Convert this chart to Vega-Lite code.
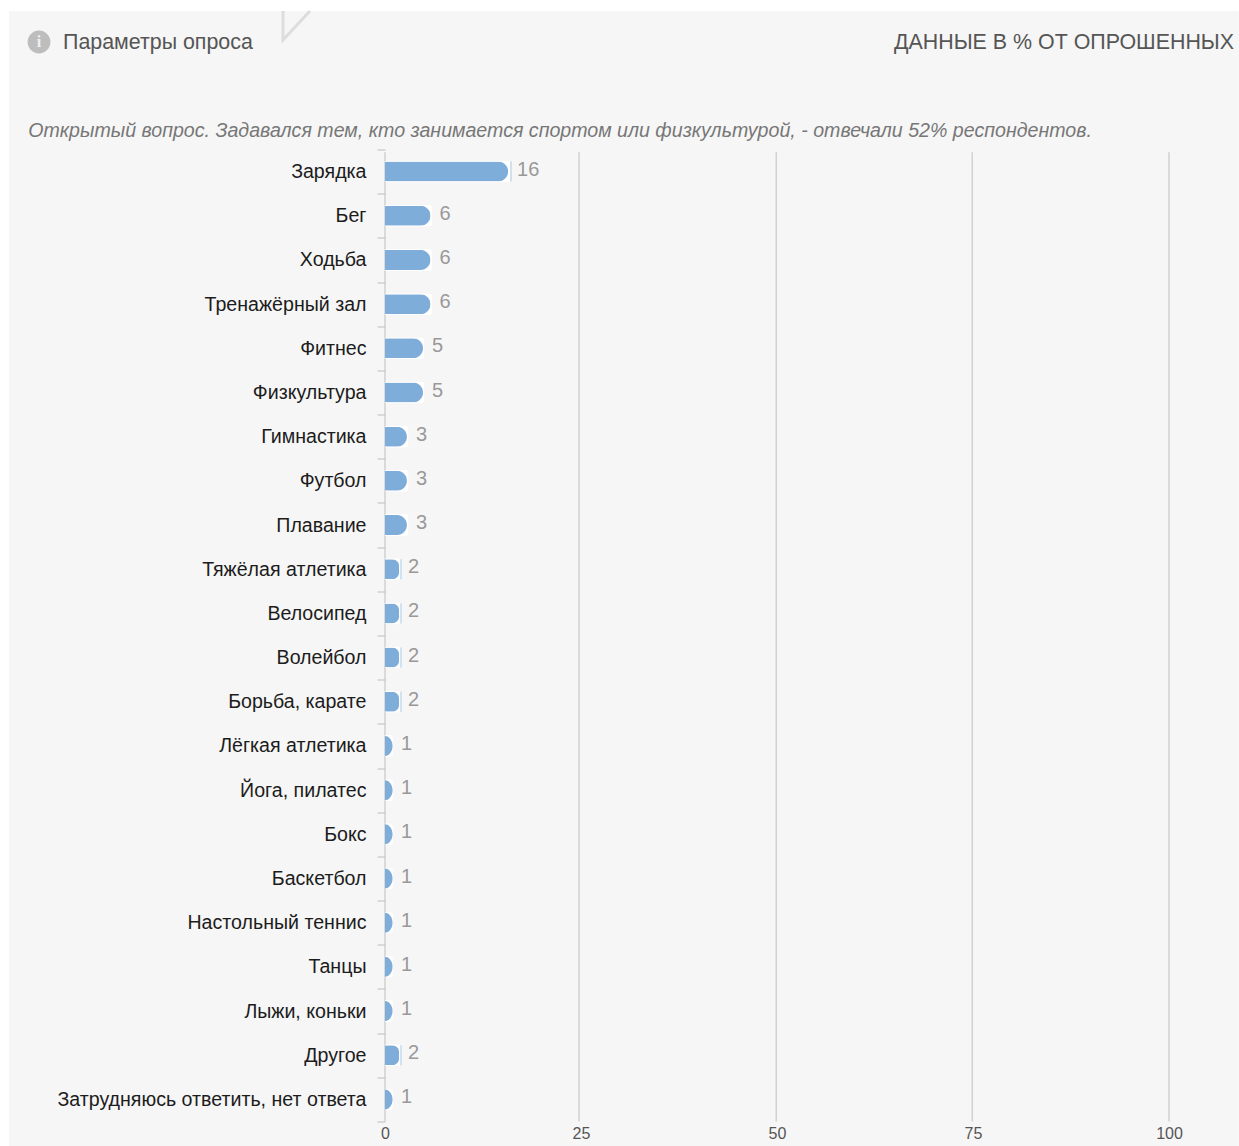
{
"$schema":"https://vega.github.io/schema/vega-lite/v6.json",
"autosize":{"type":"none"},
"width":784,"height":972,
"padding":{"left":385,"top":149.5,"right":70,"bottom":24.5},
"background":"#ffffff",
"config":{"view":{"stroke":null},"font":"Liberation Sans"},
"datasets":{
"rows":[
{"category":"Зарядка","bar":15.7,"value":16,"edge":16.07},
{"category":"Бег","bar":5.8,"value":6},
{"category":"Ходьба","bar":5.8,"value":6},
{"category":"Тренажёрный зал","bar":5.8,"value":6},
{"category":"Фитнес","bar":4.85,"value":5},
{"category":"Физкультура","bar":4.85,"value":5},
{"category":"Гимнастика","bar":2.8,"value":3},
{"category":"Футбол","bar":2.8,"value":3},
{"category":"Плавание","bar":2.8,"value":3},
{"category":"Тяжёлая атлетика","bar":1.8,"value":2,"edge":2.04},
{"category":"Велосипед","bar":1.8,"value":2,"edge":2.04},
{"category":"Волейбол","bar":1.8,"value":2,"edge":2.04},
{"category":"Борьба, карате","bar":1.8,"value":2,"edge":2.04},
{"category":"Лёгкая атлетика","bar":0.9,"value":1},
{"category":"Йога, пилатес","bar":0.9,"value":1},
{"category":"Бокс","bar":0.9,"value":1},
{"category":"Баскетбол","bar":0.9,"value":1},
{"category":"Настольный теннис","bar":0.9,"value":1},
{"category":"Танцы","bar":0.9,"value":1},
{"category":"Лыжи, коньки","bar":0.9,"value":1},
{"category":"Другое","bar":1.8,"value":2,"edge":2.04},
{"category":"Затрудняюсь ответить, нет ответа","bar":0.9,"value":1}
]
},
"resolve":{"scale":{"y":"independent"}},
"layer":[
{"layer":[
{"data":{"values":[{"x":-47.96,"x2":108.9,"y":-3.135,"y2":22.56}]},
 "mark":{"type":"rect","color":"#f6f6f6"},
 "encoding":{
  "x":{"field":"x","type":"quantitative","scale":{"domain":[0,100]},"axis":{"title":null,"values":[0,25,50,75,100],"domain":false,"ticks":false,"grid":false,"labelFontSize":16,"labelColor":"#555555","labelPadding":4,"labelAngle":0,"labelFlush":false,"zindex":1}},
  "x2":{"field":"x2"},
  "y":{"field":"y","type":"quantitative","scale":{"domain":[0,22],"reverse":true,"nice":false,"zero":false},"axis":null},
  "y2":{"field":"y2"}}},
{"data":{"values":[{"n":1,"x":-13.01,"y":-3.135},{"n":2,"x":-13.01,"y":-2.48},{"n":3,"x":-9.57,"y":-3.135}]},
 "mark":{"type":"line","color":"#dddddd","strokeWidth":3},
 "encoding":{
  "x":{"field":"x","type":"quantitative"},
  "y":{"field":"y","type":"quantitative"},
  "order":{"field":"n"}}},
{"data":{"values":[{"x":24.75,"y":0.06,"y2":22},{"x":49.9,"y":0.06,"y2":22},{"x":74.9,"y":0.06,"y2":22},{"x":100,"y":0.06,"y2":22},{"x":0,"y":0.06,"y2":22}]},
 "mark":{"type":"rule","color":"#c8c8c8","strokeWidth":1.2},
 "encoding":{
  "x":{"field":"x","type":"quantitative"},
  "y":{"field":"y","type":"quantitative"},
  "y2":{"field":"y2"}}},
{"data":{"values":[{"x":-44.13,"y":-2.433}]},
 "mark":{"type":"point","filled":true,"color":"#bdbdbd","opacity":1,"size":520},
 "encoding":{"x":{"field":"x","type":"quantitative"},"y":{"field":"y","type":"quantitative"}}},
{"data":{"values":[{"x":-44.13,"y":-2.433,"t":"i"}]},
 "mark":{"type":"text","color":"#f0f0f0","fontSize":16,"fontWeight":"bold","font":"Liberation Serif","align":"center","baseline":"middle"},
 "encoding":{"x":{"field":"x","type":"quantitative"},"y":{"field":"y","type":"quantitative"},"text":{"field":"t"}}},
{"data":{"values":[{"x":-41.07,"y":-2.41,"t":"Параметры опроса"}]},
 "mark":{"type":"text","color":"#555555","fontSize":21.4,"align":"left","baseline":"middle"},
 "encoding":{"x":{"field":"x","type":"quantitative"},"y":{"field":"y","type":"quantitative"},"text":{"field":"t"}}},
{"data":{"values":[{"x":108.3,"y":-2.41,"t":"ДАННЫЕ В % ОТ ОПРОШЕННЫХ"}]},
 "mark":{"type":"text","color":"#555555","fontSize":21.4,"align":"right","baseline":"middle"},
 "encoding":{"x":{"field":"x","type":"quantitative"},"y":{"field":"y","type":"quantitative"},"text":{"field":"t"}}},
{"data":{"values":[{"x":-45.5,"y":-0.42,"t":"Открытый вопрос. Задавался тем, кто занимается спортом или физкультурой, - отвечали 52% респондентов."}]},
 "mark":{"type":"text","color":"#777777","fontSize":19.6,"fontStyle":"italic","align":"left","baseline":"middle"},
 "encoding":{"x":{"field":"x","type":"quantitative"},"y":{"field":"y","type":"quantitative"},"text":{"field":"t"}}}
]},
{"data":{"name":"rows"},
 "encoding":{
  "y":{"field":"category","type":"nominal","sort":null,
   "scale":{"paddingInner":0,"paddingOuter":0},
   "axis":{"orient":"left","title":null,"domain":false,"grid":false,"ticks":true,"tickBand":"extent","tickSize":8,"tickColor":"#c8c8c8","tickWidth":1.2,"labelFontSize":19.6,"labelColor":"#1c1c1c","labelPadding":11,"labelLimit":400,"zindex":1,
    "encoding":{"ticks":{"update":{"opacity":{"signal":"(datum.value==='Зарядка'||datum.extra)?0:1"}}}}}}
 },
 "layer":[
 {"mark":{"type":"bar","color":"#ffffff","size":22,"cornerRadiusEnd":3},
  "encoding":{"x":{"field":"value","type":"quantitative"}}},
 {"mark":{"type":"tick","color":"#8fb8de","size":20,"thickness":1},
  "encoding":{"x":{"field":"edge","type":"quantitative"}}},
 {"transform":[{"filter":"datum.bar>1"}],
  "mark":{"type":"bar","color":"#7fadda","size":20,"cornerRadiusEnd":10},
  "encoding":{"x":{"field":"bar","type":"quantitative"}}},
 {"transform":[{"filter":"datum.bar<1"}],
  "mark":{"type":"point","filled":true,"opacity":1,"color":"#7fadda","shape":"M0,-1A0.75,1,0,0,1,0,1Z","size":400},
  "encoding":{"x":{"datum":0,"type":"quantitative"}}},
 {"mark":{"type":"text","color":"#999999","fontSize":20,"align":"left","baseline":"middle","dx":9,"dy":-2},
  "encoding":{"x":{"field":"bar","type":"quantitative"},"text":{"field":"value","type":"quantitative"}}}
 ]}
]
}
